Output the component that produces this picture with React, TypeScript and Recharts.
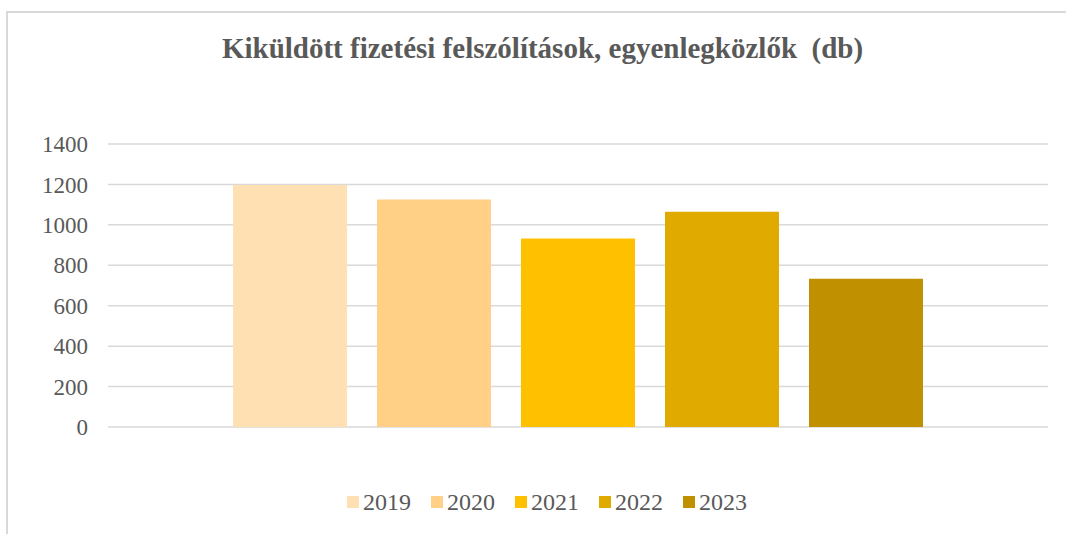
import { BarChart, Bar, XAxis, YAxis, CartesianGrid } from "recharts";

const years = ["2019", "2020", "2021", "2022", "2023"];
const values = [1197, 1125, 932, 1065, 733];
const yTicks = [0, 200, 400, 600, 800, 1000, 1200, 1400];

const colors = ["#FFE0B3", "#FFD086", "#FFC000", "#E1AA00", "#C09000"];
const FONT = '"Liberation Serif", "Times New Roman", serif';

const row: Record<string, string | number> = { name: "" };
years.forEach((y, i) => {
  row[y] = values[i];
});
const data = [row];

export default function App() {
  return (
    <div style={{ position: "absolute", left: 0, top: 0, width: 1066, height: 534, background: "#fff", overflow: "hidden" }}>
      <div
        style={{
          position: "absolute",
          left: 6,
          top: 11,
          width: 1080,
          height: 540,
          border: "2px solid #d9d9d9",
          boxSizing: "border-box",
        }}
      />
      <div
        style={{
          position: "absolute",
          left: 0,
          top: 32,
          width: 1085,
          textAlign: "center",
          fontFamily: FONT,
          fontWeight: "bold",
          fontSize: 29,
          color: "#595959",
          whiteSpace: "pre",
        }}
      >
        {"Kiküldött fizetési felszólítások, egyenlegközlők  (db)"}
      </div>
      <div style={{ position: "absolute", left: 0, top: 0 }}>
        <BarChart
          width={1066}
          height={534}
          data={data}
          margin={{ top: 144, right: 18, left: 0, bottom: 107 }}
          barSize={114}
          barGap={30}
        >
          <CartesianGrid vertical={false} stroke="#d9d9d9" strokeWidth={1.5} />
          <XAxis dataKey="name" hide />
          <YAxis
            width={108}
            domain={[0, 1400]}
            ticks={yTicks}
            axisLine={false}
            tickLine={false}
            tickSize={0}
            tickMargin={20}
            tick={{ fontFamily: FONT, fontSize: 23, fill: "#595959" }}
          />
          {years.map((y, i) => (
            <Bar key={y} dataKey={y} fill={colors[i]} isAnimationActive={false} />
          ))}
        </BarChart>
      </div>
      <div
        style={{
          position: "absolute",
          left: 0,
          top: 489,
          width: 1094,
          height: 26,
          display: "flex",
          justifyContent: "center",
          alignItems: "center",
          fontFamily: FONT,
          fontSize: 24,
          color: "#595959",
        }}
      >
        {years.map((y, i) => (
          <div key={y} style={{ display: "flex", alignItems: "center", marginRight: i < years.length - 1 ? 20 : 0 }}>
            <span style={{ width: 12, height: 12, background: colors[i], marginRight: 4, display: "inline-block" }} />
            <span>{y}</span>
          </div>
        ))}
      </div>
    </div>
  );
}
